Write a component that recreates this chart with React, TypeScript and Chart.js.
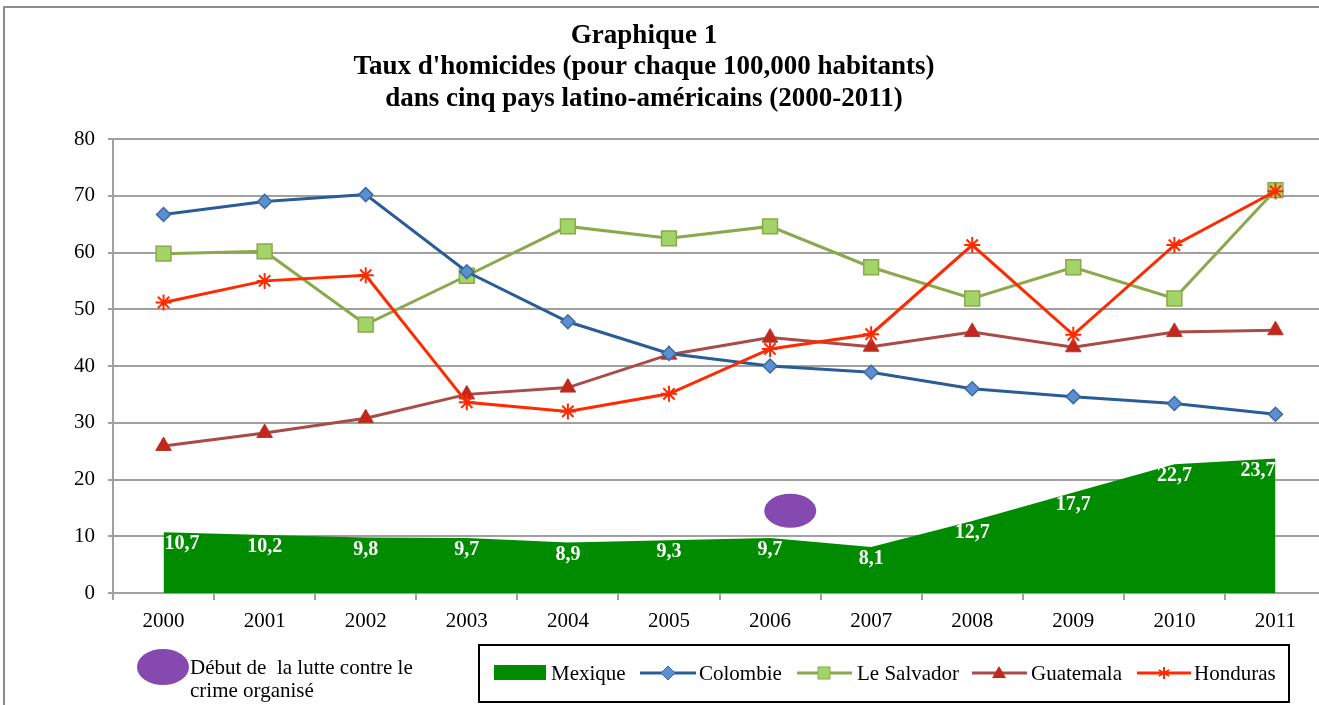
import React, { useEffect, useRef } from "react";
import { Chart, registerables } from "chart.js";

Chart.register(...registerables);

const years = ["2000", "2001", "2002", "2003", "2004", "2005", "2006", "2007", "2008", "2009", "2010", "2011"];
const mexique = [10.7, 10.2, 9.8, 9.7, 8.9, 9.3, 9.7, 8.1, 12.7, 17.7, 22.7, 23.7];
const mexiqueLabels = ["10,7", "10,2", "9,8", "9,7", "8,9", "9,3", "9,7", "8,1", "12,7", "17,7", "22,7", "23,7"];
const colombie = [66.7, 69.0, 70.2, 56.6, 47.8, 42.2, 40.0, 38.9, 36.0, 34.6, 33.4, 31.5];
const salvador = [59.8, 60.2, 47.3, 55.9, 64.6, 62.5, 64.6, 57.4, 51.9, 57.4, 51.9, 71.0];
const guatemala = [25.9, 28.2, 30.8, 35.0, 36.2, 42.0, 45.0, 43.4, 46.0, 43.3, 46.0, 46.3];
const honduras = [51.2, 55.0, 56.0, 33.6, 32.0, 35.1, 43.0, 45.6, 61.3, 45.5, 61.3, 70.8];
const titleLines = [
  "Graphique 1",
  "Taux d'homicides (pour chaque 100,000 habitants)",
  "dans cinq pays latino-américains (2000-2011)",
];
const annotationText = ["Début de  la lutte contre le", "crime organisé"];
const annotationIndex = 6.2;
const annotationValue = 14.5;

const SERIF = "'Liberation Serif', 'Times New Roman', serif";
const C_MEX = "#018b01";
const C_COL = "#2a5d95";
const C_SAL = "#8aa84c";
const C_GUA = "#a94c47";
const C_HON = "#ff2a00";
const C_PURPLE = "#8549af";
const C_GRID = "#a0a0a0";

const decor = {
  id: "decor",
  beforeDraw(chart: any) {
    const { ctx, width, height } = chart;
    ctx.save();
    ctx.fillStyle = "#ffffff";
    ctx.fillRect(0, 0, width, height);
    ctx.strokeStyle = "#8c8c8c";
    ctx.lineWidth = 2;
    ctx.strokeRect(4, 7, width + 20, height + 20);
    ctx.restore();
  },
  afterDatasetsDraw(chart: any) {
    const { ctx } = chart;
    const idx = chart.data.datasets.findIndex((d: any) => d.label === "Mexique");
    const meta = chart.getDatasetMeta(idx);
    ctx.save();
    ctx.fillStyle = "#ffffff";
    ctx.font = `bold 20px ${SERIF}`;
    ctx.textBaseline = "middle";
    meta.data.forEach((pt: any, i: number) => {
      let x = pt.x;
      if (i === 0) {
        ctx.textAlign = "left";
        x = pt.x + 1;
      } else if (i === meta.data.length - 1) {
        ctx.textAlign = "right";
        x = pt.x;
      } else {
        ctx.textAlign = "center";
      }
      ctx.fillText(mexiqueLabels[i], x, pt.y + 12);
    });
    // purple marker in the plot
    const xs = chart.scales.x;
    const ys = chart.scales.y;
    const x0 = xs.getPixelForValue(6);
    const x1 = xs.getPixelForValue(7);
    const ex = x0 + (x1 - x0) * (annotationIndex - 6);
    const ey = ys.getPixelForValue(annotationValue);
    ctx.fillStyle = C_PURPLE;
    ctx.beginPath();
    ctx.ellipse(ex, ey, 26, 17, 0, 0, Math.PI * 2);
    ctx.fill();
    ctx.restore();
  },
  afterDraw(chart: any) {
    const { ctx } = chart;
    ctx.save();
    // title
    ctx.fillStyle = "#000000";
    ctx.font = `bold 27px ${SERIF}`;
    ctx.textAlign = "center";
    ctx.textBaseline = "middle";
    const cx = 644;
    titleLines.forEach((t, i) => ctx.fillText(t, cx, 36 + i * 31.5));

    // left annotation
    ctx.fillStyle = C_PURPLE;
    ctx.beginPath();
    ctx.ellipse(163, 667, 26, 18, 0, 0, Math.PI * 2);
    ctx.fill();
    ctx.fillStyle = "#000000";
    ctx.font = `21px ${SERIF}`;
    ctx.textAlign = "left";
    ctx.fillText(annotationText[0], 190, 668);
    ctx.fillText(annotationText[1], 190, 691);

    // legend box
    ctx.strokeStyle = "#000000";
    ctx.lineWidth = 2;
    ctx.strokeRect(479, 645, 810, 57);
    const ly = 673;
    ctx.font = `21px ${SERIF}`;
    // Mexique
    ctx.fillStyle = C_MEX;
    ctx.fillRect(494, 665, 52, 15);
    ctx.fillStyle = "#000";
    ctx.fillText("Mexique", 551, ly + 1);
    const drawLine = (x0: number, x1: number, color: string) => {
      ctx.strokeStyle = color;
      ctx.lineWidth = 3;
      ctx.beginPath();
      ctx.moveTo(x0, ly);
      ctx.lineTo(x1, ly);
      ctx.stroke();
    };
    // Colombie
    drawLine(640, 696, C_COL);
    ctx.fillStyle = "#5b8fd2";
    ctx.strokeStyle = "#3a6aa3";
    ctx.lineWidth = 1;
    ctx.beginPath();
    ctx.moveTo(668, ly - 7);
    ctx.lineTo(675, ly);
    ctx.lineTo(668, ly + 7);
    ctx.lineTo(661, ly);
    ctx.closePath();
    ctx.fill();
    ctx.stroke();
    ctx.fillStyle = "#000";
    ctx.fillText("Colombie", 699, ly + 1);
    // Salvador
    drawLine(797, 852, C_SAL);
    ctx.fillStyle = "#a2d467";
    ctx.strokeStyle = C_SAL;
    ctx.lineWidth = 1;
    ctx.fillRect(818, ly - 6, 12, 12);
    ctx.strokeRect(818, ly - 6, 12, 12);
    ctx.fillStyle = "#000";
    ctx.fillText("Le Salvador", 857, ly + 1);
    // Guatemala
    drawLine(972, 1027, C_GUA);
    ctx.fillStyle = "#c3261a";
    ctx.beginPath();
    ctx.moveTo(999, ly - 7);
    ctx.lineTo(1006, ly + 5);
    ctx.lineTo(992, ly + 5);
    ctx.closePath();
    ctx.fill();
    ctx.fillStyle = "#000";
    ctx.fillText("Guatemala", 1031, ly + 1);
    // Honduras
    drawLine(1137, 1191, C_HON);
    ctx.strokeStyle = C_HON;
    ctx.lineWidth = 2;
    ctx.beginPath();
    const hx = 1164;
    for (let k = 0; k < 3; k++) {
      const a = (Math.PI / 3) * k + Math.PI / 2;
      ctx.moveTo(hx + 6 * Math.cos(a), ly + 6 * Math.sin(a));
      ctx.lineTo(hx - 6 * Math.cos(a), ly - 6 * Math.sin(a));
    }
    ctx.stroke();
    ctx.fillStyle = "#000";
    ctx.fillText("Honduras", 1194, ly + 1);
    ctx.restore();
  },
};

export default function App() {
  const ref = useRef<HTMLCanvasElement | null>(null);
  useEffect(() => {
    if (!ref.current) return;
    const chart = new Chart(ref.current, {
      type: "line",
      data: {
        labels: years,
        datasets: [
          {
            label: "Colombie",
            data: colombie,
            borderColor: C_COL,
            borderWidth: 3,
            pointStyle: "rectRot",
            pointRadius: 7,
            pointBackgroundColor: "#5b8fd2",
            pointBorderColor: "#3a6aa3",
            pointBorderWidth: 1.5,
            fill: false,
            order: 1,
          },
          {
            label: "Le Salvador",
            data: salvador,
            borderColor: C_SAL,
            borderWidth: 3,
            pointStyle: "rect",
            pointRadius: 10.5,
            pointBackgroundColor: "#a2d467",
            pointBorderColor: C_SAL,
            pointBorderWidth: 1.5,
            fill: false,
            order: 2,
          },
          {
            label: "Guatemala",
            data: guatemala,
            borderColor: C_GUA,
            borderWidth: 3,
            pointStyle: "triangle",
            pointRadius: 9,
            pointBackgroundColor: "#c3261a",
            pointBorderColor: "#b5392c",
            pointBorderWidth: 1,
            fill: false,
            order: 3,
          },
          {
            label: "Honduras",
            data: honduras,
            borderColor: C_HON,
            borderWidth: 3,
            pointStyle: "star",
            pointRadius: 8,
            pointBackgroundColor: C_HON,
            pointBorderColor: C_HON,
            pointBorderWidth: 2,
            fill: false,
            order: 0,
          },
          {
            label: "Mexique",
            data: mexique,
            borderColor: C_MEX,
            borderWidth: 0,
            backgroundColor: C_MEX,
            pointRadius: 0,
            fill: "origin",
            order: 10,
          },
        ],
      },
      options: {
        responsive: false,
        animation: false,
        layout: { padding: { top: 139, left: 0, right: 14, bottom: 0 } },
        plugins: {
          legend: { display: false },
          title: { display: false },
          tooltip: { enabled: false },
        },
        scales: {
          x: {
            type: "category",
            offset: true,
            grid: {
              offset: true,
              drawOnChartArea: false,
              drawTicks: true,
              tickLength: 7,
              color: C_GRID,
              lineWidth: 2,
            },
            border: { display: true, color: C_GRID, width: 2 },
            ticks: {
              autoSkip: false,
              maxRotation: 0,
              color: "#000",
              padding: 9,
              font: { family: SERIF, size: 21 },
            },
            afterFit(scale: any) {
              scale.height = 112;
            },
          },
          y: {
            min: 0,
            max: 80,
            ticks: {
              stepSize: 10,
              color: "#000",
              padding: 13,
              font: { family: SERIF, size: 21 },
            },
            grid: {
              color: C_GRID,
              lineWidth: 2,
              drawTicks: true,
              tickLength: 5,
            },
            border: { display: true, color: C_GRID, width: 2 },
            afterFit(scale: any) {
              scale.width = 113;
            },
          },
        },
      },
      plugins: [decor],
    } as any);
    return () => chart.destroy();
  }, []);
  return (
    <div
      style={{
        position: "fixed",
        left: 0,
        top: 0,
        width: 1319,
        height: 705,
        overflow: "hidden",
        background: "#fff",
      }}
    >
      <canvas ref={ref} width={1340} height={705} style={{ width: 1340, height: 705, display: "block" }} />
    </div>
  );
}
